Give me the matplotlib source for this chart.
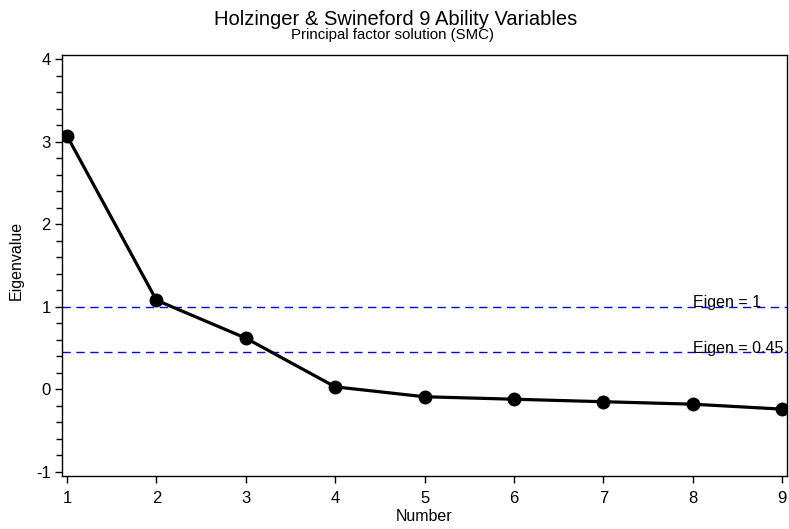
import numpy as np
import matplotlib
matplotlib.use("Agg")
import matplotlib.pyplot as plt
from matplotlib.ticker import MultipleLocator

plt.rcParams['font.family'] = ['Liberation Sans', 'DejaVu Sans']
plt.rcParams['axes.unicode_minus'] = False

# scree data
numbers = [1, 2, 3, 4, 5, 6, 7, 8, 9]
eigenvalues = [3.07, 1.08, 0.62, 0.03, -0.09, -0.12, -0.15, -0.18, -0.24]
ref_values = [1.0, 0.45]
ref_labels = ["Eigen = 1", "Eigen = 0.45"]

fig = plt.figure(figsize=(7.89, 5.29), dpi=100)
ax = fig.add_axes([0.0786, 0.1002, 0.919, 0.7958])

for v, lab in zip(ref_values, ref_labels):
    ax.axhline(v, color="#0000ff", lw=1.0, ls=(0, (6, 4)), zorder=1)
    ax.text(8.0, v + 0.05, lab, fontsize=11.5, ha="left", va="center", zorder=3)

ax.plot(numbers, eigenvalues, color="black", lw=2.3, marker="o",
        markersize=9, zorder=2)

ax.set_xlim(0.944, 9.056)
ax.set_ylim(-1.05, 4.05)
ax.set_xticks(numbers)
ax.set_yticks([-1, 0, 1, 2, 3, 4])
ax.yaxis.set_minor_locator(MultipleLocator(0.2))
ax.tick_params(axis="both", which="major", direction="out", length=5,
               width=1, labelsize=12)
ax.tick_params(axis="y", which="minor", direction="out", length=4, width=1)
ax.tick_params(axis="x", pad=6)
ax.tick_params(axis="y", pad=3)
for s in ax.spines.values():
    s.set_linewidth(1.0)

ax.set_xlabel("Number", fontsize=11.5)
ax.set_ylabel("Eigenvalue", fontsize=11.5)
ax.xaxis.set_label_coords(0.5, -0.078)
ax.yaxis.set_label_coords(-0.053, 0.513)

fig.text(0.502, 0.963, "Holzinger & Swineford 9 Ability Variables",
         ha="center", va="center", fontsize=14.5)
fig.text(0.497, 0.934, "Principal factor solution (SMC)",
         ha="center", va="center", fontsize=10.8)

fig.savefig("out.png", dpi=100)
